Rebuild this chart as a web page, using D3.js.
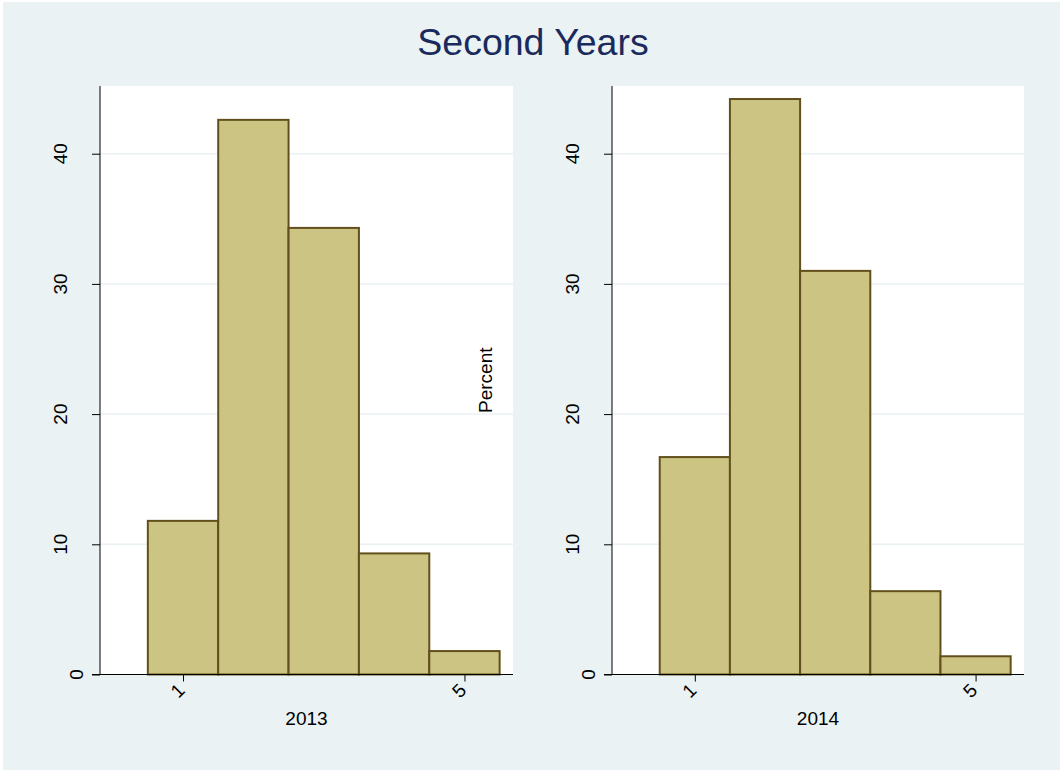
<!DOCTYPE html>
<html>
<head>
<meta charset="utf-8">
<script src="https://cdn.jsdelivr.net/npm/d3@7"></script>
<style>
  body { margin: 0; background: #ffffff; }
  text { font-family: "Liberation Sans", Arial, sans-serif; }
</style>
</head>
<body>
<div id="content"></div>
<script>
// histogram values (percent)
const bins = [1, 2, 3, 4, 5];
const pct2013 = [11.8, 42.6, 34.3, 9.3, 1.8];
const pct2014 = [16.7, 44.2, 31.0, 6.4, 1.4];
const panelNames = ["2013", "2014"];
const yTicks = [0, 10, 20, 30, 40];
const xTicks = [1, 5];

const W = 1063, H = 772;

const svg = d3
  .select("#content")
  .append("svg")
  .attr("width", W)
  .attr("height", H);

svg
  .append("rect")
  .attr("x", 3)
  .attr("y", 2)
  .attr("width", W - 6)
  .attr("height", H - 4)
  .attr("fill", "#eaf2f3");

svg
  .append("text")
  .attr("x", 533)
  .attr("y", 55)
  .attr("text-anchor", "middle")
  .attr("font-size", 37.5)
  .attr("fill", "#1a2a5c")
  .text("Second Years");

const plotTop = 86, plotBottom = 674.5;
const panels = [
  { name: panelNames[0], values: pct2013, left: 100, right: 513 },
  { name: panelNames[1], values: pct2014, left: 612, right: 1024 }
];

const y = d3.scaleLinear().domain([0, 45.2]).range([plotBottom, plotTop]);

panels.forEach(function (p) {
  const x = d3.scaleLinear().domain([-0.18, 5.69]).range([p.left, p.right]);
  const g = svg.append("g");

  g.append("rect")
    .attr("x", p.left)
    .attr("y", plotTop)
    .attr("width", p.right - p.left)
    .attr("height", plotBottom - plotTop)
    .attr("fill", "#ffffff");

  // gridlines
  g.selectAll("line.grid")
    .data(yTicks.filter(d => d > 0))
    .enter()
    .append("line")
    .attr("class", "grid")
    .attr("x1", p.left)
    .attr("x2", p.right)
    .attr("y1", d => y(d))
    .attr("y2", d => y(d))
    .attr("stroke", "#eaf1f3")
    .attr("stroke-width", 1.5);

  // bars
  g.selectAll("rect.bar")
    .data(bins)
    .enter()
    .append("rect")
    .attr("class", "bar")
    .attr("x", d => x(d - 0.5))
    .attr("width", d => x(d + 0.5) - x(d - 0.5))
    .attr("y", (d, i) => y(p.values[i]))
    .attr("height", (d, i) => y(0) - y(p.values[i]))
    .attr("fill", "#cbc482")
    .attr("stroke", "#62501c")
    .attr("stroke-width", 2);

  // y axis
  const yAxis = d3.axisLeft(y).tickValues(yTicks).tickSize(8).tickFormat("");
  const ya = g.append("g")
    .attr("transform", `translate(${p.left},0)`)
    .call(yAxis);
  ya.select(".domain").attr("d", `M0,${plotTop}V${plotBottom}`).attr("stroke", "#000");
  ya.selectAll(".tick line").attr("stroke", "#000");

  g.selectAll("text.ylab")
    .data(yTicks)
    .enter()
    .append("text")
    .attr("class", "ylab")
    .attr("transform", d => {
      const cx = p.left - 24 - 16 * (String(d).length - 1);
      return `translate(${cx},${y(d)}) rotate(-90)`;
    })
    .attr("text-anchor", "middle")
    .attr("dy", "0.36em")
    .attr("font-size", 19)
    .attr("fill", "#000")
    .text(d => d);

  // x axis
  const xAxis = d3.axisBottom(x).tickValues(xTicks).tickSize(7).tickFormat("");
  const xa = g.append("g")
    .attr("transform", `translate(0,${plotBottom})`)
    .call(xAxis);
  xa.select(".domain").attr("d", `M${p.left - 8},0H${p.right}`).attr("stroke", "#000");
  xa.selectAll(".tick line").attr("stroke", "#000");

  g.selectAll("text.xlab")
    .data(xTicks)
    .enter()
    .append("text")
    .attr("class", "xlab")
    .attr("transform", d => `translate(${x(d) + 3},${plotBottom + 17}) rotate(-45)`)
    .attr("text-anchor", "end")
    .attr("font-size", 19)
    .attr("fill", "#000")
    .text(d => d);

  g.append("text")
    .attr("x", (p.left + p.right) / 2)
    .attr("y", 725)
    .attr("text-anchor", "middle")
    .attr("font-size", 19)
    .attr("fill", "#000")
    .text(p.name);
});

// shared y title, sits between the two panels
svg
  .append("text")
  .attr("transform", `translate(492,${(plotTop + plotBottom) / 2}) rotate(-90)`)
  .attr("text-anchor", "middle")
  .attr("font-size", 19)
  .attr("fill", "#000")
  .text("Percent");
</script>
</body>
</html>
